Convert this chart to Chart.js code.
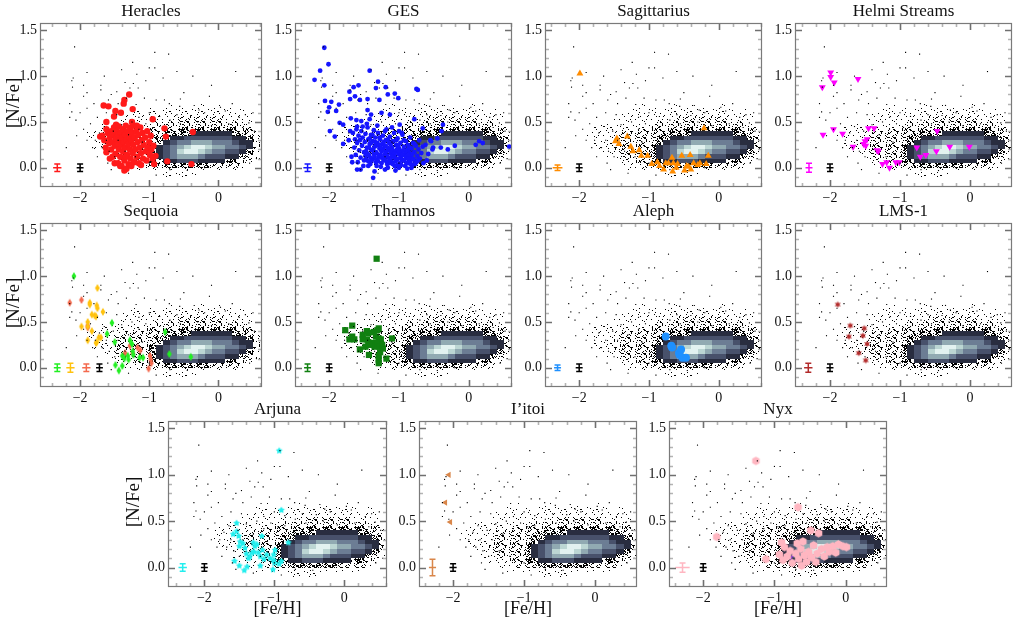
<!DOCTYPE html>
<html>
<head>
<meta charset="utf-8">
<script src="https://cdn.jsdelivr.net/npm/chart.js@4/dist/chart.umd.min.js"></script>
<style>
html, body { margin: 0; padding: 0; background: #fff; width: 1017px; height: 625px; overflow: hidden; }
canvas { position: absolute; }
</style>
</head>
<body>
<script>
// Axis ticks
const feTicks = [-2, -1, 0];
const feMinor = [-2.4, -2.2, -1.8, -1.6, -1.4, -1.2, -0.8, -0.6, -0.4, -0.2, 0.2, 0.4, 0.6];
const nfeTicks = [0, 0.5, 1.0, 1.5];
const nfeMinor = [-0.1, 0.1, 0.2, 0.3, 0.4, 0.6, 0.7, 0.8, 0.9, 1.1, 1.2, 1.3, 1.4];

// Disc field: 2D histogram, bins of 0.1 dex in [Fe/H] from -2.0, 0.05 dex in [N/Fe] from 0.7 down
const densityFe0 = -2.0, densityStepFe = 0.1;
const densityNFeTop = 0.7, densityStepNFe = 0.05;
const densityRows = [
  "00000000010001001100100000",
  "00000001101011111111110100",
  "00000011111111111111111110",
  "00000111111111222222211110",
  "00011111111222222222222210",
  "00111111122222333333333221",
  "01111122222233334444443321",
  "01111222222334455555554432",
  "00111222222345667776665442",
  "00111222223456789987766542",
  "00011222223456899876655431",
  "00001122223456777655544321",
  "00000111223344555444433210",
  "00000011122233333332222100",
  "00000001111111111111111000",
  "00000000000011111000000000"
];

// Sparse field stars outside the histogram core
const fieldStars = [
  [-2.08,1.32],[-0.92,1.26],[-0.72,1.24],[-1.24,1.15],[-1.90,1.04],[-2.10,0.98],[-2.12,0.95],[-2.11,0.88],
  [-1.18,1.02],[-1.00,1.09],[-0.92,1.09],[-0.37,1.00],[-1.35,0.93],[-1.23,0.92],[-1.70,0.90],[-1.70,0.85],
  [-1.90,0.82],[-1.47,0.83],[-1.28,0.87],[-1.16,0.87],[-1.95,0.78],[-1.59,0.74],[-2.15,0.70],[-0.13,0.78],
  [-0.90,0.74],[-0.78,0.74],[-1.33,0.76],[-1.07,0.76],[-2.12,0.61],[-1.90,0.65],[-2.15,0.55],[-2.06,0.52],
  [-1.19,0.69],[-0.71,0.70],[-0.56,0.67],[-0.35,0.68],[-0.28,0.63],[0.03,0.66],[0.39,0.58],[0.44,0.49],
  [-1.62,0.60],[-1.47,0.58],[-1.75,0.55],[-1.85,0.48],[-1.95,0.42],[-2.05,0.35],[-1.90,0.30],[-2.20,0.22],
  [-1.82,0.22],[-1.75,0.12],[-1.60,0.05],[-1.55,-0.02],[-1.30,-0.06],[-0.90,-0.08],[-1.40,1.07],[-0.60,1.05],
  [0.25,1.05],[-0.10,0.90],[0.20,0.70],[0.50,0.60],[-0.50,0.82],[-1.45,0.70],[-1.00,0.60],[-1.15,0.55],
  [-0.85,0.56],[-0.60,0.58],[-0.40,0.57],[-0.20,0.60],[0.10,0.62],[0.30,0.55],[-1.65,0.45],[-1.72,0.38],
  [-1.78,0.30],[-2.00,0.60],[-1.80,0.70],[-1.55,0.80],[-1.05,0.95],[-0.80,0.98],[-0.55,0.75],[-1.65,1.00],
  [-1.95,0.90],[-1.52,0.40],[-1.40,0.47],[-1.30,0.36],[-1.25,0.50],[-1.15,0.42],[-1.05,0.48],[-0.95,0.44],
  [-1.45,0.30],[-1.35,0.18],[-1.20,0.12],[-1.10,0.28],[-1.00,0.05],[-1.50,0.12],[-0.85,0.45],[-0.70,0.52],
  [-0.55,0.48],[-0.30,0.50],[-0.10,0.46],[0.15,0.48],[0.35,0.44],[0.52,0.40],[0.55,0.10],[0.45,0.05],
  [-0.20,0.00],[-0.45,-0.03],[-0.70,-0.02],[-1.62,0.30],[-1.58,0.18],[-1.68,0.22]
];

// Substructures: [Fe/H], [N/Fe]
const heraclesStars = [
  [-1.29,0.80],[-1.36,0.74],[-1.37,0.70],[-1.66,0.68],[-1.59,0.67],[-1.24,0.64],[-1.49,0.62],[-1.41,0.60],
  [-1.51,0.56],[-0.95,0.53],[-1.62,0.50],[-0.78,0.43],[-0.37,0.39],[-0.76,0.34],[-0.74,0.07],[-0.91,0.13],
  [-0.93,0.04],[-0.39,0.04],[-1.36,-0.03],[-1.42,0.02],[-1.50,0.05],[-1.71,0.34],
  [-1.68,0.35],[-1.65,0.30],[-1.63,0.22],[-1.62,0.17],[-1.60,0.38],[-1.58,0.27],[-1.57,0.33],[-1.55,0.40],
  [-1.55,0.20],[-1.53,0.36],[-1.52,0.28],[-1.51,0.44],[-1.50,0.24],[-1.49,0.15],[-1.48,0.32],[-1.47,0.40],
  [-1.46,0.26],[-1.45,0.36],[-1.44,0.45],[-1.44,0.20],[-1.43,0.30],[-1.42,0.12],[-1.41,0.38],[-1.40,0.25],
  [-1.39,0.33],[-1.38,0.42],[-1.38,0.18],[-1.37,0.28],[-1.36,0.08],[-1.35,0.36],[-1.35,0.22],[-1.34,0.46],
  [-1.33,0.30],[-1.32,0.14],[-1.31,0.40],[-1.30,0.26],[-1.30,0.04],[-1.29,0.34],[-1.28,0.20],[-1.27,0.44],
  [-1.27,0.10],[-1.26,0.30],[-1.25,0.38],[-1.24,0.16],[-1.23,0.25],[-1.22,0.46],[-1.22,0.06],[-1.21,0.33],
  [-1.20,0.20],[-1.19,0.40],[-1.18,0.12],[-1.17,0.28],[-1.16,0.36],[-1.15,0.05],[-1.14,0.22],[-1.13,0.44],
  [-1.12,0.16],[-1.11,0.30],[-1.10,0.38],[-1.09,0.10],[-1.08,0.25],[-1.06,0.33],[-1.05,0.18],[-1.04,0.08],
  [-1.03,0.40],[-1.02,0.22],[-1.00,0.28],[-0.99,0.14],[-0.98,0.35],[-0.97,0.20],[-0.95,0.10],[-0.94,0.24],
  [-1.45,0.05],[-1.40,0.02],[-1.33,-0.01],[-1.26,0.02],[-1.57,0.10],[-1.53,0.12],[-1.18,0.46],[-1.48,0.47],
  [-1.62,0.42],[-1.25,0.50],[-1.12,0.03],[-1.34,0.12]
];
const gesStars = [
  [-2.07,1.31],[-2.01,1.13],[-2.13,1.06],[-2.21,0.96],[-2.07,0.90],[-1.42,1.06],[-2.06,0.73],[-1.97,0.72],
  [-1.86,0.69],[-2.00,0.66],[-2.02,0.61],[-1.90,0.62],[-1.71,0.83],[-1.65,0.88],[-1.58,0.90],[-1.70,0.75],
  [-1.63,0.78],[-1.56,0.74],[-1.45,0.75],[-1.30,0.94],[-1.33,0.87],[-1.19,0.88],[-1.16,0.80],[-1.06,0.81],
  [-0.75,0.86],[-0.73,0.85],[-1.01,0.76],[-1.28,0.74],[-1.45,0.63],[-1.40,0.58],[-1.25,0.60],[-1.13,0.58],
  [-1.85,0.49],[-1.80,0.47],[-1.69,0.54],[-1.61,0.52],[-1.54,0.51],[-1.42,0.53],[-0.99,0.47],[-0.78,0.53],
  [-0.96,0.38],[-0.37,0.47],[-0.39,0.40],[-0.66,0.43],[0.58,0.23],[0.15,0.29],[-0.54,0.29],[-0.51,0.22],
  [-1.99,0.40],[-1.92,0.34],[-1.80,0.26],[-1.67,0.06],[-1.60,-0.02],[-1.37,-0.11],
  [-1.66,0.38],[-1.64,0.22],[-1.63,0.31],[-1.62,0.14],[-1.61,0.42],[-1.60,0.27],[-1.59,0.06],[-1.58,0.35],
  [-1.57,0.19],[-1.56,0.30],[-1.55,0.11],[-1.54,0.40],[-1.53,0.24],[-1.52,0.33],[-1.51,0.02],[-1.50,0.17],
  [-1.49,0.28],[-1.48,0.37],[-1.47,0.09],[-1.46,0.22],[-1.45,0.44],[-1.44,0.31],[-1.43,0.14],[-1.42,0.26],
  [-1.41,0.04],[-1.40,0.36],[-1.39,0.19],[-1.38,0.29],[-1.37,0.10],[-1.36,0.41],[-1.35,0.23],[-1.34,0.33],
  [-1.33,0.06],[-1.32,0.16],[-1.31,0.27],[-1.30,0.38],[-1.29,0.12],[-1.28,0.21],[-1.27,0.31],[-1.26,0.01],
  [-1.25,0.18],[-1.24,0.26],[-1.23,0.35],[-1.22,0.08],[-1.21,0.14],[-1.20,0.23],[-1.19,0.30],[-1.18,0.42],
  [-1.17,0.04],[-1.16,0.19],[-1.15,0.11],[-1.14,0.27],[-1.13,0.34],[-1.12,0.16],[-1.11,0.07],[-1.10,0.22],
  [-1.09,0.29],[-1.08,0.13],[-1.07,0.38],[-1.06,0.02],[-1.05,0.18],[-1.04,0.25],[-1.03,0.09],[-1.02,0.32],
  [-1.01,0.15],[-1.00,0.21],[-0.99,0.05],[-0.98,0.27],[-0.97,0.12],[-0.96,0.18],[-0.95,0.36],[-0.94,0.08],
  [-0.93,0.23],[-0.92,0.14],[-0.91,0.02],[-0.90,0.29],[-0.89,0.19],[-0.88,0.10],[-0.87,0.25],[-0.86,0.05],
  [-0.85,0.16],[-0.84,0.33],[-0.83,0.12],[-0.82,0.21],[-0.81,0.03],[-0.80,0.27],[-0.79,0.09],[-0.78,0.17],
  [-0.76,0.24],[-0.75,0.06],[-0.74,0.13],[-0.72,0.20],[-0.71,0.30],[-0.70,0.10],[-0.68,0.16],[-0.66,0.23],
  [-0.65,0.05],[-1.48,0.13],[-1.44,0.07],[-1.40,0.27],[-1.36,0.15],[-1.33,0.24],[-1.30,0.07],[-1.28,0.33],
  [-1.25,0.11],[-1.22,0.28],[-1.19,0.17],[-1.16,0.31],[-1.14,0.05],[-1.12,0.25],[-1.09,0.19],[-1.06,0.11],
  [-1.04,0.30],[-1.01,0.24],[-0.98,0.16],[-0.96,0.09],[-0.93,0.30],[-0.90,0.12],[-0.87,0.20],[-0.84,0.07],
  [-0.81,0.15],[-0.78,0.26],[-1.38,0.36],[-1.31,0.46],[-1.20,0.40],[-1.10,0.44],[-1.00,0.40],[-1.46,0.48],
  [-1.52,0.45],[-1.60,0.45],[-1.70,0.40],[-1.72,0.30],[-1.68,0.12],[-1.55,-0.02],[-1.35,-0.04],[-1.20,-0.02],
  [-1.05,-0.03],[-0.88,-0.01],[-0.62,0.25],[-0.58,0.15],[-0.55,0.30],[-0.52,0.20],[-0.45,0.32],[-0.40,0.22],
  [-0.30,0.20],[-0.20,0.24],[0.10,0.25],[0.20,0.27],[-0.60,0.08],
  [-1.47,0.18],[-1.43,0.22],[-1.41,0.11],[-1.39,0.08],[-1.37,0.20],[-1.35,0.12],[-1.33,0.17],[-1.31,0.09],
  [-1.29,0.25],[-1.27,0.14],[-1.25,0.05],[-1.23,0.20],[-1.21,0.10],[-1.19,0.24],[-1.17,0.13],[-1.15,0.21],
  [-1.13,0.08],[-1.11,0.18],[-1.09,0.04],[-1.07,0.15],[-1.05,0.07],[-1.03,0.20],[-1.01,0.10],[-0.99,0.18],
  [-0.97,0.03],[-0.95,0.14],[-0.93,0.08],[-0.91,0.18],[-0.89,0.05],[-0.87,0.14],[-0.85,0.22],[-0.83,0.04],
  [-0.80,0.10],[-0.77,0.04],[-0.73,0.08],[-1.50,0.08],[-1.45,0.15],[-1.42,0.32],[-1.34,0.28],[-1.26,0.22],
  [-1.18,0.07],[-1.10,0.12],[-1.02,0.03],[-0.94,0.19],[-0.86,0.10],[-1.44,0.02],[-1.32,0.02],[-1.16,0.00],
  [-1.00,0.00],[-0.82,0.00]
];
const sagittariusStars = [
  [-1.99,1.03],[-1.31,0.34],[-1.46,0.32],[-1.48,0.29],[-1.43,0.26],[-1.26,0.23],[-1.23,0.18],[-1.14,0.19],
  [-1.11,0.13],[-1.02,0.13],[-0.96,0.04],[-0.88,0.06],[-0.85,0.02],[-0.79,-0.02],[-0.76,0.05],[-0.67,0.11],
  [-0.65,0.05],[-0.66,-0.04],[-0.61,0.00],[-0.53,0.13],[-0.49,-0.03],[-0.43,0.01],[-0.41,0.14],[-0.40,-0.02],
  [-0.36,0.05],[-0.30,0.03],[-0.27,0.05],[-0.18,0.04],[-0.15,0.13],[-0.21,0.43],[-0.72,0.05],[-0.59,0.04],
  [-0.46,0.02]
];
const helmiStars = [
  [-1.99,1.04],[-1.99,0.99],[-1.94,0.93],[-2.11,0.88],[-1.60,0.97],[-1.95,0.42],[-2.10,0.36],[-1.82,0.37],
  [-1.45,0.43],[-1.37,0.43],[-1.67,0.23],[-1.50,0.29],[-1.47,0.31],[-1.49,0.24],[-1.33,0.19],[-1.31,0.18],
  [-1.25,0.04],[-1.19,0.06],[-1.15,0.00],[-1.06,0.06],[-1.01,0.06],[-0.76,0.22],[-0.71,0.12],[-0.63,0.14],
  [-0.48,0.18],[-0.47,0.40],[-0.29,0.23],[-0.01,0.23],[-1.52,0.26]
];
const sequoiaGreen = [
  [-2.09,1.00],[-1.54,0.49],[-1.61,0.37],[-1.50,0.28],[-1.49,0.03],[-1.44,-0.03],[-1.39,0.02],[-1.39,0.13],
  [-1.36,0.10],[-1.30,0.09],[-1.31,0.13],[-1.28,0.30],[-1.25,0.26],[-1.24,0.18],[-1.23,0.14],[-1.14,0.11],
  [-1.09,0.11],[-0.77,0.39],[-0.71,0.15],[-0.40,0.12]
];
const sequoiaGold = [
  [-1.75,0.87],[-1.86,0.71],[-1.86,0.69],[-1.76,0.68],[-1.75,0.65],[-1.67,0.61],[-1.83,0.58],[-1.79,0.57],
  [-1.77,0.56],[-1.89,0.50],[-1.98,0.45],[-1.89,0.45],[-1.83,0.40],[-1.73,0.33],[-1.70,0.33],[-1.76,0.28],
  [-1.77,0.27],[-1.89,0.30]
];
const sequoiaSalmon = [
  [-2.15,0.71],[-1.98,0.74],[-1.89,0.46],[-1.89,0.44],[-1.35,0.16],[-1.28,0.24],[-1.24,0.16],[-1.17,0.22],
  [-1.13,0.19],[-0.99,0.13],[-0.98,0.09],[-0.97,0.05],[-1.01,-0.01]
];
const thamnosStars = [
  [-1.32,1.19],[-1.77,0.41],[-1.67,0.46],[-1.71,0.31],[-1.64,0.31],[-1.67,0.34],[-1.52,0.36],[-1.46,0.40],
  [-1.44,0.38],[-1.36,0.39],[-1.31,0.41],[-1.29,0.43],[-1.52,0.31],[-1.48,0.23],[-1.46,0.31],[-1.44,0.28],
  [-1.38,0.27],[-1.35,0.23],[-1.33,0.34],[-1.29,0.32],[-1.26,0.31],[-1.31,0.27],[-1.28,0.23],[-1.24,0.25],
  [-1.23,0.21],[-1.27,0.17],[-1.29,0.13],[-1.29,0.09],[-1.29,0.05],[-1.56,0.20],[-1.43,0.14],[-1.18,0.10],
  [-1.10,0.32],[-1.43,0.25]
];
const alephStars = [
  [-0.76,0.34],[-0.68,0.24],[-0.67,0.22],[-0.57,0.16],[-0.54,0.20],[-0.52,0.11],[-0.47,0.11],[-0.56,0.14]
];
const lms1Stars = [
  [-1.89,0.69],[-1.71,0.46],[-1.73,0.34],[-1.51,0.43],[-1.53,0.35],[-1.47,0.26],[-1.59,0.16],[-1.49,0.08]
];
const arjunaStars = [
  [-0.93,1.26],[-0.90,0.62],[-1.54,0.48],[-1.59,0.36],[-1.54,0.39],[-1.51,0.34],[-1.49,0.28],[-1.45,0.26],
  [-1.50,0.23],[-1.42,0.21],[-1.40,0.15],[-1.37,0.10],[-1.30,0.27],[-1.28,0.23],[-1.25,0.25],[-1.29,0.17],
  [-1.32,0.16],[-1.23,0.16],[-1.20,0.12],[-1.18,0.34],[-1.17,0.19],[-1.15,0.09],[-1.11,0.14],[-1.06,0.10],
  [-1.01,0.14],[-0.99,0.19],[-1.01,0.08],[-1.00,0.05],[-1.02,-0.02],[-0.93,0.04],[-0.90,0.07],[-0.80,0.27],
  [-1.57,0.07],[-1.50,0.02],[-1.43,-0.03],[-1.39,0.01],[-1.20,0.02],[-1.35,0.12]
];
const iitoiStars = [[-2.06,1.00],[-2.11,0.70],[-2.04,0.49]];
const nyxStars = [
  [-1.26,1.15],[-0.67,0.65],[-1.81,0.33],[-0.49,0.40],[-0.38,0.37],[-1.12,0.09],[-0.93,0.14],[-0.90,0.27],
  [-0.62,0.02],[-0.42,0.06],[-0.34,0.20],[-0.23,0.17],[-0.14,0.16],[-0.18,0.23],[-0.04,0.23],[0.01,0.22],
  [-0.10,0.25],[-0.86,0.22],[-0.82,0.12],[-0.78,0.18],[-0.75,0.05],[-0.70,0.15],[-0.66,0.09],[-0.63,0.20],
  [-0.58,0.13],[-0.55,0.06],[-0.52,0.17],[-0.48,0.11],[-0.45,0.24],[-0.40,0.15],[-0.30,0.12],[-0.26,0.22],
  [-0.88,0.08],[-0.68,0.26],[-0.60,0.28]
];
const nyxOutlier = [[-0.72,0.10]];

// Error bars: [Fe/H] position, x error, y error (last one is the field sample)
const heraclesErr = [[-2.33,0.06,0.04],[-2.00,0.05,0.04]];
const gesErr = [[-2.31,0.06,0.04],[-2.00,0.05,0.04]];
const sagittariusErr = [[-2.31,0.07,0.03],[-2.00,0.05,0.04]];
const helmiErr = [[-2.30,0.05,0.05],[-2.00,0.05,0.04]];
const sequoiaErr = [[-2.33,0.05,0.04],[-2.14,0.06,0.05],[-1.91,0.06,0.04],[-1.72,0.05,0.04]];
const thamnosErr = [[-2.31,0.05,0.04],[-2.00,0.05,0.04]];
const alephErr = [[-2.31,0.05,0.03],[-2.00,0.05,0.04]];
const lms1Err = [[-2.31,0.06,0.05],[-2.00,0.05,0.04]];
const arjunaErr = [[-2.31,0.06,0.04],[-2.00,0.05,0.04]];
const iitoiErr = [[-2.29,0.05,0.09],[-2.00,0.05,0.04]];
const nyxErr = [[-2.29,0.10,0.05],[-2.00,0.05,0.04]];

const FONT = "'Liberation Serif', 'DejaVu Serif', serif";
// bone-like colours for the dense histogram levels
const densityColors = [null, null, null, null, '#292d40', '#48516b', '#6c7d94', '#91aab2', '#bcd6d3', '#e2f2f0'];
// sparse levels are drawn as a dot texture with this ink coverage
const stippleCover = [0, 0.07, 0.2, 0.42];

// fixed 16x16 dither tile (integer hash, same every run)
function stipple(ctx, cover) {
  const c = document.createElement('canvas');
  c.width = c.height = 16;
  const g = c.getContext('2d');
  g.fillStyle = '#000';
  for (let i = 0; i < 16; i++) {
    for (let j = 0; j < 16; j++) {
      let h = (i * 374761393 + j * 668265263) | 0;
      h = Math.imul(h ^ (h >>> 13), 1274126177);
      h = (h ^ (h >>> 16)) >>> 0;
      if ((h % 1000) / 1000 < cover) g.fillRect(i, j, 1, 1);
    }
  }
  return ctx.createPattern(c, 'repeat');
}

function polyMarker(sides, r, color, sx = 1, inner = 0) {
  const c = document.createElement('canvas');
  const s = Math.ceil(r * 2 + 2);
  c.width = c.height = s;
  const g = c.getContext('2d');
  g.fillStyle = color;
  g.beginPath();
  const n = inner ? sides * 2 : sides;
  for (let i = 0; i < n; i++) {
    const a = -Math.PI / 2 + i * 2 * Math.PI / n;
    const rr = inner && i % 2 ? r * inner : r;
    g.lineTo(s / 2 + rr * Math.cos(a) * sx, s / 2 + rr * Math.sin(a));
  }
  g.closePath();
  g.fill();
  return c;
}

const panelPlugin = {
  id: 'panel',
  beforeDatasetsDraw(chart) {
    const { ctx, chartArea: a, scales: { x, y } } = chart;
    const patterns = stippleCover.map(v => v ? stipple(ctx, v) : null);
    ctx.save();
    ctx.beginPath();
    ctx.rect(a.left, a.top, a.right - a.left, a.bottom - a.top);
    ctx.clip();
    densityRows.forEach((row, r) => {
      for (let c = 0; c < row.length; c++) {
        const lvl = +row[c];
        if (!lvl) continue;
        const x0 = Math.round(x.getPixelForValue(densityFe0 + c * densityStepFe));
        const x1 = Math.round(x.getPixelForValue(densityFe0 + (c + 1) * densityStepFe));
        const y0 = Math.round(y.getPixelForValue(densityNFeTop - r * densityStepNFe));
        const y1 = Math.round(y.getPixelForValue(densityNFeTop - (r + 1) * densityStepNFe));
        ctx.fillStyle = lvl <= 3 ? patterns[lvl] : densityColors[lvl];
        ctx.fillRect(x0, y0, x1 - x0, y1 - y0);
      }
    });
    ctx.restore();
  },
  afterDatasetsDraw(chart, args, opts) {
    const { ctx, chartArea: a, scales: { x, y } } = chart;
    ctx.save();
    // error bars
    opts.err.forEach(([fe, xe, ye], i) => {
      const cx = x.getPixelForValue(fe), cy = y.getPixelForValue(0);
      const l = x.getPixelForValue(fe - xe), r = x.getPixelForValue(fe + xe);
      const t = y.getPixelForValue(ye), b = y.getPixelForValue(-ye);
      ctx.strokeStyle = opts.errColors[i];
      ctx.lineWidth = 1.5;
      ctx.beginPath();
      ctx.moveTo(l, cy); ctx.lineTo(r, cy);
      ctx.moveTo(cx, t); ctx.lineTo(cx, b);
      ctx.moveTo(cx - 3, t); ctx.lineTo(cx + 3, t);
      ctx.moveTo(cx - 3, b); ctx.lineTo(cx + 3, b);
      ctx.stroke();
    });
    // inward ticks on all sides
    const xt = (vals, len, col) => {
      ctx.strokeStyle = col;
      ctx.beginPath();
      vals.forEach(v => {
        const p = Math.round(x.getPixelForValue(v)) + 0.5;
        if (p < a.left || p > a.right) return;
        ctx.moveTo(p, a.bottom); ctx.lineTo(p, a.bottom - len);
        ctx.moveTo(p, a.top); ctx.lineTo(p, a.top + len);
      });
      ctx.stroke();
    };
    const yt = (vals, len, col) => {
      ctx.strokeStyle = col;
      ctx.beginPath();
      vals.forEach(v => {
        const p = Math.round(y.getPixelForValue(v)) + 0.5;
        ctx.moveTo(a.left, p); ctx.lineTo(a.left + len, p);
        ctx.moveTo(a.right, p); ctx.lineTo(a.right - len, p);
      });
      ctx.stroke();
    };
    ctx.lineWidth = 1.6;
    xt(feMinor, 4, '#b4b4b4');
    yt(nfeMinor, 4, '#b4b4b4');
    xt(feTicks, 7, '#707070');
    yt(nfeTicks, 7, '#707070');
    ctx.strokeStyle = '#7a7a7a';
    ctx.lineWidth = 1.2;
    ctx.strokeRect(a.left + 0.5, a.top + 0.5, a.right - a.left - 1, a.bottom - a.top - 1);
    // title and axis labels
    ctx.fillStyle = '#111';
    ctx.textAlign = 'center';
    ctx.textBaseline = 'middle';
    ctx.font = '17px ' + FONT;
    ctx.fillText(opts.title, (a.left + a.right) / 2, a.top - 11);
    if (opts.xLabel) {
      ctx.font = '18px ' + FONT;
      ctx.fillText('[Fe/H]', (a.left + a.right) / 2, a.bottom + 22);
    }
    if (opts.yLabel) {
      ctx.font = '19px ' + FONT;
      ctx.translate(a.left - opts.yLabel, (a.top + a.bottom) / 2 - 2);
      ctx.rotate(-Math.PI / 2);
      ctx.fillText('[N/Fe]', 0, 0);
    }
    ctx.restore();
  }
};

const RED = '#ff1a1a', BLUE = '#1515ff', ORANGE = '#ff8c00', MAGENTA = '#ff00ff';
const LIME = '#22ee22', GOLD = '#ffc20e', SALMON = '#f46a4e', GREEN = '#118011';
const DODGER = '#1e90ff', FIRE = '#b22a2a', CYAN = '#22eeee', PERU = '#d9864a', PINK = '#ffb6c1';

const panels = [
  { title: 'Heracles', box: [40, 23, 262, 187], fe: [-2.58, 0.63], yLabel: 26,
    err: heraclesErr, errColors: [RED, '#000'],
    groups: [{ data: heraclesStars, style: 'circle', r: 3.2, color: RED }] },
  { title: 'GES', box: [295, 23, 512, 187], fe: [-2.49, 0.62],
    err: gesErr, errColors: [BLUE, '#000'],
    groups: [{ data: gesStars, style: 'circle', r: 2.4, color: BLUE }] },
  { title: 'Sagittarius', box: [545, 23, 762, 187], fe: [-2.49, 0.62],
    err: sagittariusErr, errColors: [ORANGE, '#000'],
    groups: [{ data: sagittariusStars, style: 'triangle', r: 4, color: ORANGE }] },
  { title: 'Helmi Streams', box: [795, 23, 1012, 187], fe: [-2.5, 0.6],
    err: helmiErr, errColors: [MAGENTA, '#000'],
    groups: [{ data: helmiStars, style: 'triangle', r: 4, rot: 180, color: MAGENTA }] },
  { title: 'Sequoia', box: [40, 223, 262, 387], fe: [-2.58, 0.63], yLabel: 26,
    err: sequoiaErr, errColors: [LIME, GOLD, SALMON, '#000'],
    groups: [
      { data: sequoiaGreen, style: polyMarker(4, 4, LIME, 0.6) },
      { data: sequoiaGold, style: polyMarker(4, 4, GOLD, 0.6) },
      { data: sequoiaSalmon, style: polyMarker(4, 4, SALMON, 0.6) }
    ] },
  { title: 'Thamnos', box: [295, 223, 512, 387], fe: [-2.49, 0.62],
    err: thamnosErr, errColors: [GREEN, '#000'],
    groups: [{ data: thamnosStars, style: 'rect', r: 4.4, color: GREEN }] },
  { title: 'Aleph', box: [545, 223, 762, 387], fe: [-2.49, 0.62],
    err: alephErr, errColors: [DODGER, '#000'],
    groups: [{ data: alephStars, style: 'circle', r: 4, color: DODGER }] },
  { title: 'LMS-1', box: [795, 223, 1012, 387], fe: [-2.5, 0.6],
    err: lms1Err, errColors: [FIRE, '#000'],
    groups: [{ data: lms1Stars, style: polyMarker(6, 3.6, FIRE, 1, 0.45) }] },
  { title: 'Arjuna', box: [168, 421, 387, 587], fe: [-2.52, 0.61], yLabel: 34, xLabel: true,
    err: arjunaErr, errColors: [CYAN, '#000'],
    groups: [{ data: arjunaStars, style: polyMarker(5, 3.6, CYAN, 1, 0.55) }] },
  { title: 'I\u2019itoi', box: [419, 421, 637, 587], fe: [-2.48, 0.59], xLabel: true,
    err: iitoiErr, errColors: [PERU, '#000'],
    groups: [{ data: iitoiStars, style: 'triangle', r: 3.6, rot: 270, color: PERU }] },
  { title: 'Nyx', box: [669, 421, 887, 587], fe: [-2.48, 0.58], xLabel: true,
    err: nyxErr, errColors: [PINK, '#000'],
    groups: [
      { data: nyxStars, style: polyMarker(6, 4.3, PINK) },
      { data: nyxOutlier, style: 'rectRot', r: 4, color: 'transparent', border: '#8a2be2' }
    ] }
];

const minus = v => String(v).replace('-', '\u2212');

panels.forEach(p => {
  const [l, t, r, b] = p.box;
  const padL = 50, padT = 23, padR = 8, padB = p.xLabel ? 45 : 22;
  const canvas = document.createElement('canvas');
  canvas.width = r - l + padL + padR;
  canvas.height = b - t + padT + padB;
  canvas.style.left = (l - padL) + 'px';
  canvas.style.top = (t - padT) + 'px';
  document.body.appendChild(canvas);

  const datasets = [{
    data: fieldStars.map(([x, y]) => ({ x, y })),
    pointStyle: 'rect', pointRadius: 0.8, backgroundColor: '#000', borderWidth: 0
  }];
  p.groups.forEach(g => datasets.push({
    data: g.data.map(([x, y]) => ({ x, y })),
    pointStyle: g.style,
    pointRadius: g.r || 4,
    pointRotation: g.rot || 0,
    backgroundColor: g.color || '#000',
    borderColor: g.border || g.color || '#000',
    borderWidth: g.border ? 1.3 : 0
  }));

  new Chart(canvas, {
    type: 'scatter',
    data: { datasets },
    plugins: [panelPlugin],
    options: {
      responsive: false,
      animation: false,
      devicePixelRatio: 1,
      events: [],
      layout: { padding: { top: padT, right: padR, left: 0, bottom: 0 } },
      plugins: {
        legend: { display: false },
        tooltip: { enabled: false },
        panel: { title: p.title, err: p.err, errColors: p.errColors, xLabel: p.xLabel, yLabel: p.yLabel }
      },
      scales: {
        x: {
          type: 'linear', min: p.fe[0], max: p.fe[1],
          grid: { display: false, drawTicks: false },
          border: { display: false },
          afterBuildTicks: s => { s.ticks = feTicks.map(v => ({ value: v })); },
          afterFit: s => { s.height = padB; },
          ticks: { autoSkip: false, padding: 3, color: '#111', font: { family: FONT, size: 14 },
                   maxRotation: 0, callback: v => minus(v) }
        },
        y: {
          type: 'linear', min: -0.21, max: 1.58,
          grid: { display: false, drawTicks: false },
          border: { display: false },
          afterBuildTicks: s => { s.ticks = nfeTicks.map(v => ({ value: v })); },
          afterFit: s => { s.width = padL; },
          ticks: { autoSkip: false, padding: 3, color: '#111', font: { family: FONT, size: 14 },
                   callback: v => minus(Number(v).toFixed(1)) }
        }
      }
    }
  });
});
</script>
</body>
</html>
